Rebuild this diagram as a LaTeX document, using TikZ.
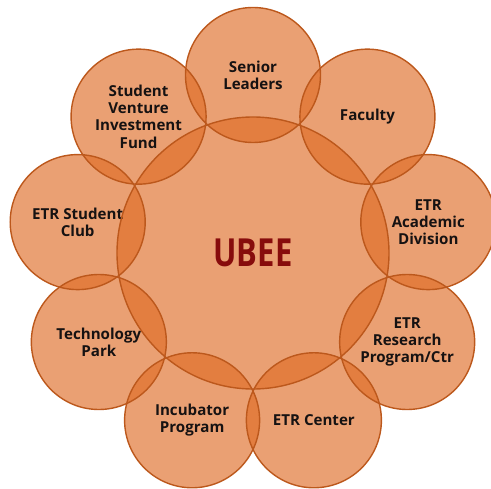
\documentclass[tikz,border=0pt]{standalone}
\usepackage{fontspec}
\setsansfont{Open Sans}
\usetikzlibrary{positioning}
\definecolor{petaltint}{RGB}{222,105,34}
\definecolor{petalrim}{RGB}{188,88,28}
\definecolor{hubred}{RGB}{135,12,12}
\definecolor{labelink}{RGB}{22,18,18}

\begin{document}
\begin{tikzpicture}[
  petal/.style={circle, minimum size=2.7cm, inner sep=0pt, fill=petaltint, fill opacity=0.63,
    text opacity=1, align=center, text=labelink, font=\sffamily\bfseries\fontsize{8.6}{9.8}\selectfont},
  rim/.style={petalrim, line width=0.8pt}]
  \useasboundingbox (-5.06,-4.70) rectangle (4.76,5.06);

  % 中心圆
  \node[petal, minimum size=5.44cm, text=hubred, font=\sffamily\bfseries\fontsize{22}{26}\selectfont] (ubee) at (0,0) {\scalebox{0.8}[1]{UBEE}};

  % 外圈九个圆，从正上方起顺时针每 40 度一个
  \node[petal] (senior)    at (90:3.56)   {Senior\\Leaders};
  \node[petal] (faculty)   at (50:3.56)   {Faculty};
  \node[petal] (academic)  at (10:3.56)   {ETR\\Academic\\Division};
  \node[petal] (research)  at (-30:3.56)  {ETR\\Research\\Program/Ctr};
  \node[petal] (etrcenter) at (-70:3.56)  {ETR Center};
  \node[petal] (incubator) at (-110:3.56) {Incubator\\Program};
  \node[petal] (techpark)  at (-150:3.56) {Technology\\Park};
  \node[petal] (club)      at (170:3.56)  {ETR Student\\Club};
  \node[petal] (venture)   at (130:3.56)  {Student\\Venture\\Investment\\Fund};

  % 边线最后再描一遍，重叠处也看得见
  \draw[rim] (ubee.center) circle[radius=2.72];
  \foreach \n in {senior,faculty,academic,research,etrcenter,incubator,techpark,club,venture}
    \draw[rim] (\n.center) circle[radius=1.35];
\end{tikzpicture}
\end{document}
